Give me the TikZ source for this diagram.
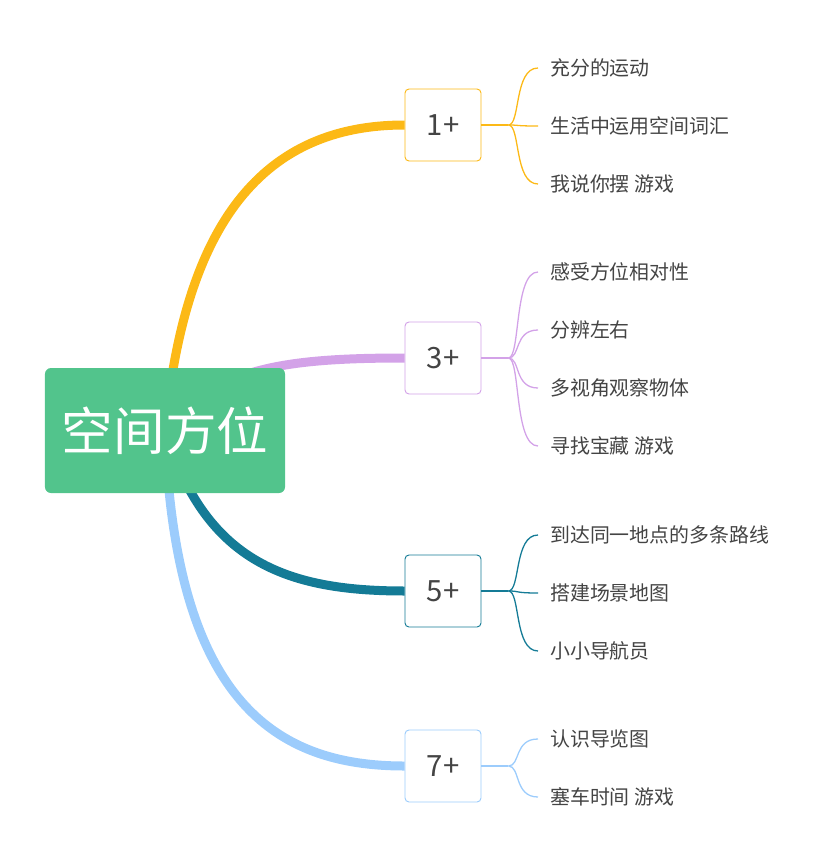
\documentclass[tikz,border=0pt]{standalone}
\usepackage{fontspec}
\setmainfont{Noto Sans CJK SC}
\usepackage{xcolor}
\usetikzlibrary{positioning, backgrounds}

\definecolor{topicgreen}{HTML}{52C48C}
\definecolor{brorange}{HTML}{FCB916}
\definecolor{brpurple}{HTML}{D3A2E8}
\definecolor{brteal}{HTML}{147B96}
\definecolor{brblue}{HTML}{9CCCFC}
\definecolor{leaftext}{HTML}{444444}

\begin{document}
\begin{tikzpicture}[
    x=0.03cm, y=-0.03cm,
    topic/.style={rectangle, rounded corners=0.18cm, fill=topicgreen, text=white, minimum width=7.2cm, minimum height=3.75cm, font=\fontsize{44}{48}\selectfont},
    age/.style={rectangle, rounded corners=0.12cm, draw=#1, line width=0.8pt, fill=white, minimum width=2.28cm, minimum height=2.16cm, text=leaftext, font=\fontsize{25}{28}\selectfont},
    leaf/.style={anchor=west, inner xsep=0.36cm, inner ysep=0pt, text=leaftext, font=\fontsize{17}{20}\selectfont},
    branch/.style={line width=0.27cm, draw=#1},
    twig/.style={line width=1.1pt, draw=#1}
]
\useasboundingbox (0,0) rectangle (834,867);

% Central topic
\node[topic] (topic) at (165,430.5) {空间方位};

% Age boxes
\node[age=brorange] (b1) at (443,125) {1+};
\node[age=brpurple] (b3) at (443,358) {3+};
\node[age=brteal] (b5) at (443,591) {5+};
\node[age=brblue] (b7) at (443,766) {7+};

% Leaves of 1+
\node[leaf] (l1a) at (538,68) {充分的运动};
\node[leaf] (l1b) at (538,126) {生活中运用空间词汇};
\node[leaf] (l1c) at (538,184) {我说你摆 游戏};

% Leaves of 3+
\node[leaf] (l3a) at (538,272) {感受方位相对性};
\node[leaf] (l3b) at (538,330) {分辨左右};
\node[leaf] (l3c) at (538,388) {多视角观察物体};
\node[leaf] (l3d) at (538,446) {寻找宝藏 游戏};

% Leaves of 5+
\node[leaf] (l5a) at (538,535) {到达同一地点的多条路线};
\node[leaf] (l5b) at (538,593) {搭建场景地图};
\node[leaf] (l5c) at (538,651) {小小导航员};

% Leaves of 7+
\node[leaf] (l7a) at (538,739) {认识导览图};
\node[leaf] (l7b) at (538,797) {塞车时间 游戏};

% Main branches, behind the topic
\begin{scope}[on background layer]
\draw[branch=brorange] (topic.center) .. controls +(20,-210) and +(-140,0) .. (b1.west);
\draw[branch=brpurple] (topic.center) .. controls +(50,-60) and +(-130,0) .. (b3.west);
\draw[branch=brteal] (topic.center) .. controls +(40,130) and +(-120,0) .. (b5.west);
\draw[branch=brblue] (topic.center) .. controls +(10,270) and +(-130,0) .. (b7.west);
\end{scope}

% Twigs from boxes to leaves
\foreach \b/\c/\leaves in {b1/brorange/{l1a,l1b,l1c}, b3/brpurple/{l3a,l3b,l3c,l3d}, b5/brteal/{l5a,l5b,l5c}, b7/brblue/{l7a,l7b}} {
  \draw[twig=\c] (\b.east) -- ++(27,0) coordinate (\b fork);
  \foreach \l in \leaves
    \draw[twig=\c] (\b fork) .. controls +(12,0) and +(-24,0) .. (\l.west);
}
\end{tikzpicture}
\end{document}
